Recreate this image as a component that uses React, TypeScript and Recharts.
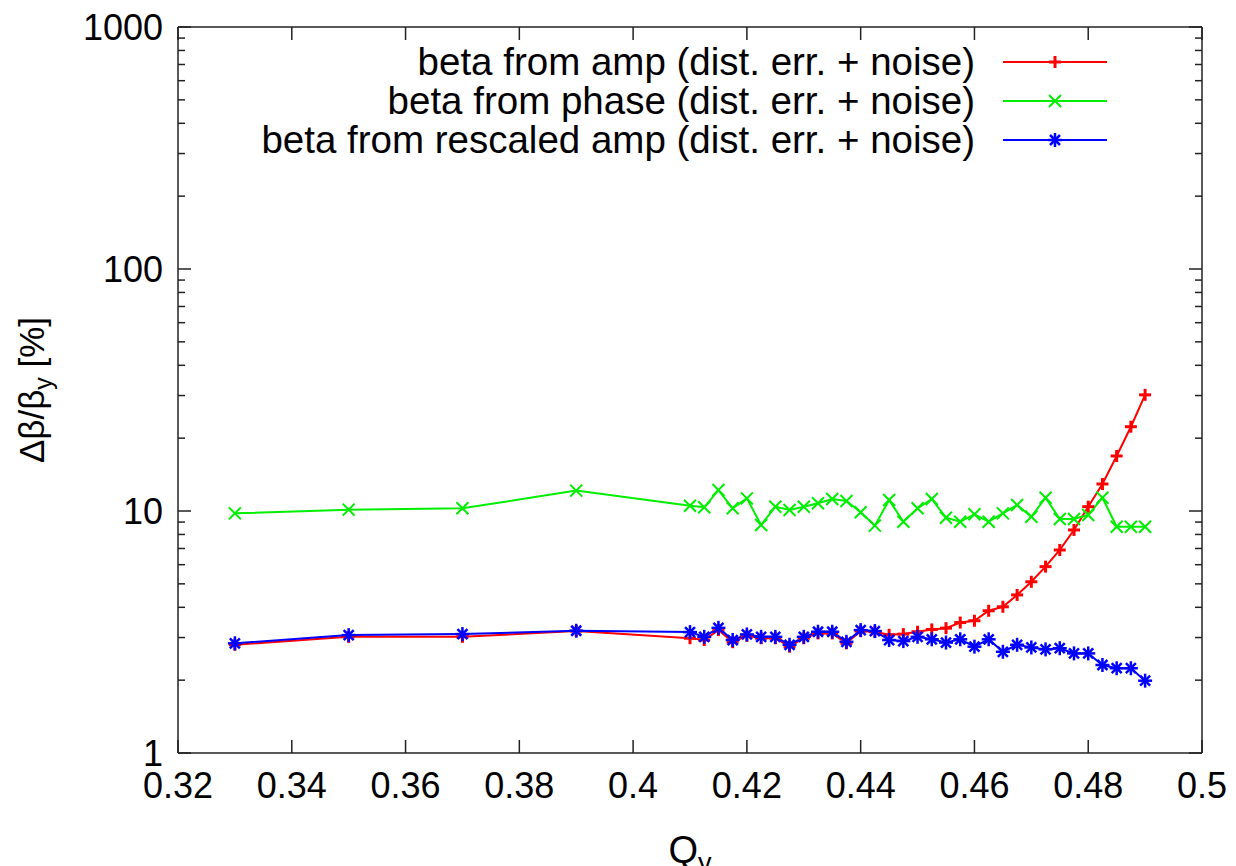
import React from "react";
import { LineChart, Line, XAxis, YAxis, Label, Customized } from "recharts";

// tune Q_y scan: coarse points, then a fine scan from 0.41 up to 0.49
const Q_Y = [
  0.33, 0.35, 0.37, 0.39,
  0.41, 0.4125, 0.415, 0.4175, 0.42, 0.4225, 0.425, 0.4275, 0.43, 0.4325, 0.435,
  0.4375, 0.44, 0.4425, 0.445, 0.4475, 0.45, 0.4525, 0.455, 0.4575, 0.46, 0.4625,
  0.465, 0.4675, 0.47, 0.4725, 0.475, 0.4775, 0.48, 0.4825, 0.485, 0.4875, 0.49,
];

// Δβ/β_y [%]
const BETA_AMP = [
  2.8, 3.02, 3.02, 3.19,
  2.98, 2.93, 3.22, 2.87, 3.05, 2.98, 2.98, 2.75, 2.98, 3.12, 3.12,
  2.84, 3.19, 3.17, 3.08, 3.1, 3.17, 3.24, 3.28, 3.46, 3.52, 3.87,
  4.02, 4.5, 5.1, 5.89, 6.9, 8.35, 10.42, 12.93, 16.88, 22.3, 30.2,
];
const BETA_PHASE = [
  9.78, 10.13, 10.26, 12.14,
  10.52, 10.36, 12.21, 10.26, 11.28, 8.75, 10.42, 10.1, 10.42, 10.76, 11.21,
  11.0, 9.88, 8.7, 11.1, 9.03, 10.26, 11.21, 9.38, 9.03, 9.69, 9.03,
  9.78, 10.59, 9.47, 11.35, 9.27, 9.27, 9.63, 11.35, 8.61, 8.61, 8.61,
];
const BETA_RESCALED = [
  2.84, 3.07, 3.1, 3.2,
  3.16, 3.02, 3.29, 2.93, 3.09, 3.02, 3.02, 2.8, 3.02, 3.17, 3.17,
  2.88, 3.22, 3.19, 2.93, 2.9, 3.02, 2.95, 2.86, 2.95, 2.75, 2.95,
  2.62, 2.8, 2.73, 2.68, 2.71, 2.58, 2.58, 2.31, 2.24, 2.24, 1.99,
];

const SERIES_LABELS = [
  "beta from amp (dist. err. + noise)",
  "beta from phase (dist. err. + noise)",
  "beta from rescaled amp (dist. err. + noise)",
];

const X_TICKS = [0.32, 0.34, 0.36, 0.38, 0.4, 0.42, 0.44, 0.46, 0.48, 0.5];
const Y_MAJOR = [1, 10, 100, 1000];
// log axis: majors plus 2..9 of each decade
const Y_TICKS = [
  1, 2, 3, 4, 5, 6, 7, 8, 9,
  10, 20, 30, 40, 50, 60, 70, 80, 90,
  100, 200, 300, 400, 500, 600, 700, 800, 900,
  1000,
];

const data = Q_Y.map((q, i) => ({
  q,
  amp: BETA_AMP[i],
  phase: BETA_PHASE[i],
  resc: BETA_RESCALED[i],
}));

const FONT = "'Liberation Sans', Arial, sans-serif";
const TICK_FS = 36;
const AXIS = "#222";
const MAJOR = 13;
const MINOR = 7;
const MARGIN_X = 12;
const MARGIN_Y = 15;

const RED = "#ff0000";
const GREEN = "#00ee00";
const BLUE = "#0000ff";

// point symbols, gnuplot style
const Plus = ({ cx, cy, color = RED }: any) => (
  <g stroke={color} strokeWidth={3}>
    <line x1={cx - 6} y1={cy} x2={cx + 6} y2={cy} />
    <line x1={cx} y1={cy - 6} x2={cx} y2={cy + 6} />
  </g>
);
const Cross = ({ cx, cy, color = GREEN }: any) => (
  <g stroke={color} strokeWidth={2}>
    <line x1={cx - 6} y1={cy - 6} x2={cx + 6} y2={cy + 6} />
    <line x1={cx - 6} y1={cy + 6} x2={cx + 6} y2={cy - 6} />
  </g>
);
const Star = ({ cx, cy, color = BLUE }: any) => (
  <g stroke={color} strokeWidth={2.5}>
    <line x1={cx - 7} y1={cy} x2={cx + 7} y2={cy} />
    <line x1={cx} y1={cy - 7} x2={cx} y2={cy + 7} />
    <line x1={cx - 5} y1={cy - 5} x2={cx + 5} y2={cy + 5} />
    <line x1={cx - 5} y1={cy + 5} x2={cx + 5} y2={cy - 5} />
  </g>
);

const isMajor = (v: number) => Y_MAJOR.includes(v);

// bottom axis: label below, tick pointing up into the plot
const BottomTick = ({ x, y, payload }: any) => {
  const axisY = y - MARGIN_X;
  return (
    <g>
      <line x1={x} y1={axisY} x2={x} y2={axisY - MAJOR} stroke={AXIS} strokeWidth={1.5} />
      <text x={x} y={y} dy="0.92em" textAnchor="middle" fontFamily={FONT} fontSize={TICK_FS} fill="#000">
        {String(payload.value)}
      </text>
    </g>
  );
};
const TopTick = ({ x, y }: any) => (
  <line x1={x} y1={y} x2={x} y2={y + MAJOR} stroke={AXIS} strokeWidth={1.5} />
);
const LeftTick = ({ x, y, payload }: any) => {
  const axisX = x + MARGIN_Y;
  const major = isMajor(payload.value);
  return (
    <g>
      <line x1={axisX} y1={y} x2={axisX + (major ? MAJOR : MINOR)} y2={y} stroke={AXIS} strokeWidth={1.5} />
      {major && (
        <text x={x} y={y} dy="0.36em" textAnchor="end" fontFamily={FONT} fontSize={TICK_FS} fill="#000">
          {String(payload.value)}
        </text>
      )}
    </g>
  );
};
const RightTick = ({ x, y, payload }: any) => (
  <line x1={x} y1={y} x2={x - (isMajor(payload.value) ? MAJOR : MINOR)} y2={y} stroke={AXIS} strokeWidth={1.5} />
);

const XTitle = ({ viewBox }: any) => (
  <text x={viewBox.x + viewBox.width / 2} y={viewBox.y + 110} textAnchor="middle" fontFamily={FONT} fontSize={38} fill="#000">
    Q<tspan dy={9} fontSize={27}>y</tspan>
  </text>
);
const YTitle = ({ viewBox }: any) => {
  const cx = viewBox.x + 44;
  const cy = viewBox.y + viewBox.height / 2;
  return (
    <text transform={`translate(${cx},${cy}) rotate(-90)`} textAnchor="middle" fontFamily={FONT} fontSize={35} fill="#000">
      Δβ/β<tspan dy={8} fontSize={25}>y</tspan>
      <tspan dy={-8}> [%]</tspan>
    </text>
  );
};

const KEY_MARKS = [Plus, Cross, Star];
const KEY_COLORS = [RED, GREEN, BLUE];

const Key = () => (
  <g fontFamily={FONT} fontSize={38.5}>
    {SERIES_LABELS.map((label, i) => {
      const y = 62 + i * 39;
      const Mark = KEY_MARKS[i];
      return (
        <g key={label}>
          <text x={975} y={y} dy="0.35em" textAnchor="end" fill="#000">{label}</text>
          <line x1={1003} y1={y} x2={1107} y2={y} stroke={KEY_COLORS[i]} strokeWidth={2} />
          <Mark cx={1055} cy={y} color={KEY_COLORS[i]} />
        </g>
      );
    })}
  </g>
);

export default function App() {
  return (
    <div style={{ position: "absolute", left: 0, top: 0, background: "#fff" }}>
      <LineChart width={1236} height={866} data={data} margin={{ top: 0, right: 0, bottom: 0, left: 0 }}>
        <XAxis
          xAxisId="bottom"
          dataKey="q"
          type="number"
          domain={[0.32, 0.5]}
          ticks={X_TICKS}
          interval={0}
          height={113}
          tickSize={0}
          tickMargin={MARGIN_X}
          tickLine={false}
          tick={<BottomTick />}
          axisLine={{ stroke: AXIS, strokeWidth: 1.5 }}
          allowDataOverflow
        >
          <Label content={<XTitle />} />
        </XAxis>
        <XAxis
          xAxisId="top"
          orientation="top"
          dataKey="q"
          type="number"
          domain={[0.32, 0.5]}
          ticks={X_TICKS}
          interval={0}
          height={27}
          tickSize={0}
          tickMargin={0}
          tickLine={false}
          tick={<TopTick />}
          axisLine={{ stroke: AXIS, strokeWidth: 1.5 }}
          allowDataOverflow
        />
        <YAxis
          yAxisId="left"
          type="number"
          scale="log"
          domain={[1, 1000]}
          ticks={Y_TICKS}
          interval={0}
          width={178}
          tickSize={0}
          tickMargin={MARGIN_Y}
          tickLine={false}
          tick={<LeftTick />}
          axisLine={{ stroke: AXIS, strokeWidth: 1.5 }}
          allowDataOverflow
        >
          <Label content={<YTitle />} />
        </YAxis>
        <YAxis
          yAxisId="right"
          orientation="right"
          type="number"
          scale="log"
          domain={[1, 1000]}
          ticks={Y_TICKS}
          interval={0}
          width={34}
          tickSize={0}
          tickMargin={0}
          tickLine={false}
          tick={<RightTick />}
          axisLine={{ stroke: AXIS, strokeWidth: 1.5 }}
          allowDataOverflow
        />
        <Line
          xAxisId="bottom"
          yAxisId="left"
          dataKey="amp"
          type="linear"
          stroke={RED}
          strokeWidth={2}
          dot={(p: any) => <Plus key={`a${p.index}`} cx={p.cx} cy={p.cy} />}
          activeDot={false}
          isAnimationActive={false}
        />
        <Line
          xAxisId="bottom"
          yAxisId="left"
          dataKey="phase"
          type="linear"
          stroke={GREEN}
          strokeWidth={2}
          dot={(p: any) => <Cross key={`p${p.index}`} cx={p.cx} cy={p.cy} />}
          activeDot={false}
          isAnimationActive={false}
        />
        <Line
          xAxisId="bottom"
          yAxisId="left"
          dataKey="resc"
          type="linear"
          stroke={BLUE}
          strokeWidth={2}
          dot={(p: any) => <Star key={`r${p.index}`} cx={p.cx} cy={p.cy} />}
          activeDot={false}
          isAnimationActive={false}
        />
        <Customized component={<Key />} />
      </LineChart>
    </div>
  );
}
